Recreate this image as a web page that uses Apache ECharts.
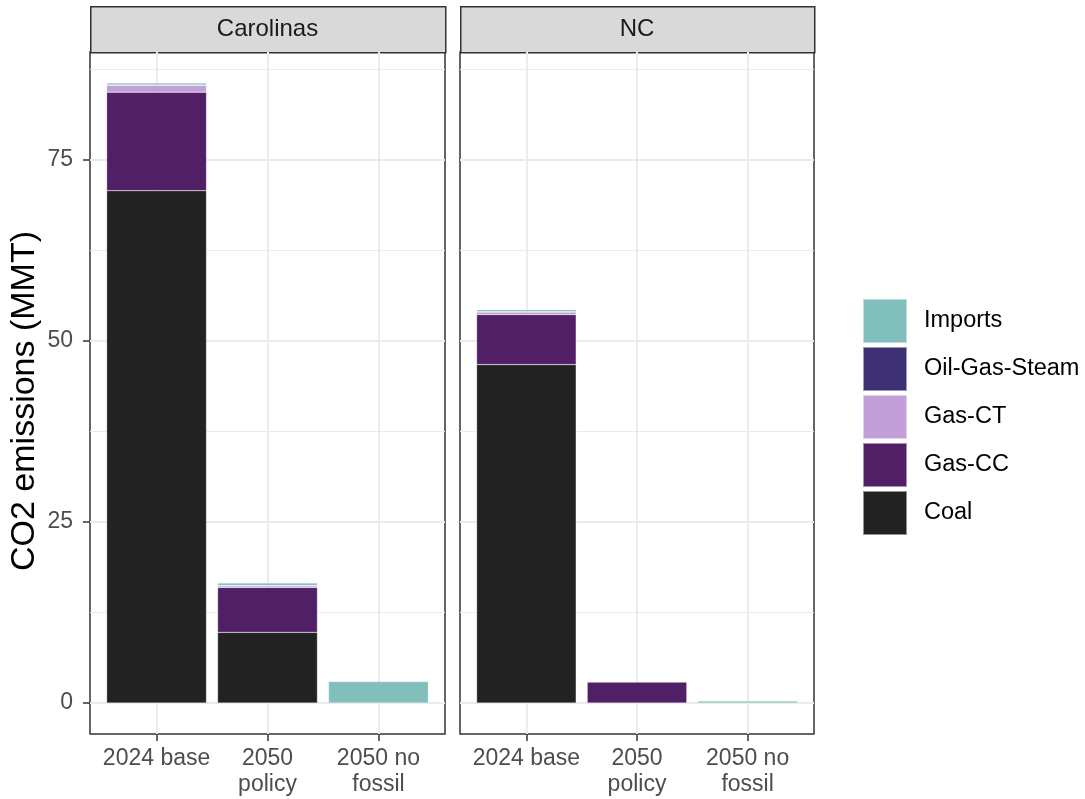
<!DOCTYPE html>
<html>
<head>
<meta charset="utf-8">
<script src="https://cdn.jsdelivr.net/npm/echarts@6/dist/echarts.min.js"></script>
<style>
  html, body { margin: 0; padding: 0; background: #fff; }
  #chart { width: 1085px; height: 799px; }
</style>
</head>
<body>
<div id="chart"></div>
<script>
// ---- data ----
const categories = ['2024 base', '2050\npolicy', '2050 no\nfossil'];
const regions = ['Carolinas', 'NC'];
const seriesNames = ['Coal', 'Gas-CC', 'Gas-CT', 'Oil-Gas-Steam', 'Imports'];
const legendOrder = ['Imports', 'Oil-Gas-Steam', 'Gas-CT', 'Gas-CC', 'Coal'];

const coalCarolinas    = [70.7, 9.75, 0];
const gasCCCarolinas   = [13.6, 6.2, 0];
const gasCTCarolinas   = [0.95, 0.23, 0];
const oilCarolinas     = [0.04, 0.02, 0];
const importsCarolinas = [0.27, 0.36, 2.95];

const coalNC    = [46.7, 0, 0];
const gasCCNC   = [6.9, 2.9, 0];
const gasCTNC   = [0.37, 0.02, 0];
const oilNC     = [0.02, 0, 0];
const importsNC = [0.28, 0, 0.27];

const yTicks = [0, 25, 50, 75];
const yMinorTicks = [12.5, 37.5, 62.5, 87.5];

// ---- styling ----
const colors = {
  'Coal': '#222222',
  'Gas-CC': '#501f66',
  'Gas-CT': '#c29fd9',
  'Oil-Gas-Steam': '#3c3073',
  'Imports': '#80bfbc'
};
const FONT = '"Liberation Sans", Arial, Helvetica, sans-serif';

const regionData = [
  { 'Coal': coalCarolinas, 'Gas-CC': gasCCCarolinas, 'Gas-CT': gasCTCarolinas, 'Oil-Gas-Steam': oilCarolinas, 'Imports': importsCarolinas },
  { 'Coal': coalNC, 'Gas-CC': gasCCNC, 'Gas-CT': gasCTNC, 'Oil-Gas-Steam': oilNC, 'Imports': importsNC }
];

// shared y range with ggplot-like 5% expansion
let dataMax = 0;
regionData.forEach(rd => {
  categories.forEach((c, i) => {
    let s = 0;
    seriesNames.forEach(n => { s += rd[n][i]; });
    dataMax = Math.max(dataMax, s);
  });
});
const expand = dataMax * 0.05;
const yMin = -expand, yMax = dataMax + expand;

const panels = [
  { left: 90, width: 355 },
  { left: 460, width: 354 }
];
const panelTop = 52, panelBottom = 734;
const xExpand = 0.6;

const grids = [], xAxes = [], yAxes = [], series = [], graphics = [];
const catIdx = categories.map((c, i) => i);
const nCat = categories.length;

panels.forEach((p, r) => {
  // outer (frame) grid: border, gridlines, ticks, labels
  const outer = grids.length;
  grids.push({
    left: p.left, top: panelTop, width: p.width, height: panelBottom - panelTop,
    show: true, borderColor: '#333333', borderWidth: 1.5, backgroundColor: '#fff',
    containLabel: false
  });
  // inner grid: category band region for bars
  const unit = p.width / ((nCat - 1) + 2 * xExpand);
  const inner = grids.length;
  grids.push({
    left: p.left + (xExpand - 0.5) * unit, top: panelTop, width: nCat * unit, height: panelBottom - panelTop,
    show: false, containLabel: false
  });

  xAxes.push({
    gridIndex: outer, type: 'value', min: -xExpand, max: nCat - 1 + xExpand, position: 'bottom',
    axisLine: { show: false, onZero: false },
    axisTick: { show: true, customValues: catIdx, length: 7, lineStyle: { color: '#333333', width: 1.5 } },
    axisLabel: {
      show: true, customValues: catIdx, margin: 12,
      formatter: v => categories[Math.round(v)],
      color: '#4d4d4d', fontSize: 23, fontFamily: FONT, lineHeight: 26
    },
    splitLine: { show: true, lineStyle: { color: '#ebebeb', width: 2 } }
  });
  const innerX = xAxes.length;
  xAxes.push({
    gridIndex: inner, type: 'category', data: categories, boundaryGap: true,
    axisLine: { show: false, onZero: false }, axisTick: { show: false }, axisLabel: { show: false }, splitLine: { show: false }
  });

  yAxes.push({
    gridIndex: outer, type: 'value', min: yMin, max: yMax, position: 'left',
    axisLine: { show: false, onZero: false },
    axisTick: { show: r === 0, customValues: yTicks, length: 7, lineStyle: { color: '#333333', width: 1.5 } },
    axisLabel: { show: r === 0, customValues: yTicks, margin: 17, color: '#4d4d4d', fontSize: 23, fontFamily: FONT },
    splitLine: { show: true, lineStyle: { color: '#ebebeb', width: 2 } }
  });
  yAxes.push({
    gridIndex: outer, type: 'value', min: yMin, max: yMax, position: 'right',
    axisLine: { show: false, onZero: false },
    axisTick: { show: false, customValues: yMinorTicks },
    axisLabel: { show: false, customValues: yMinorTicks },
    splitLine: { show: true, lineStyle: { color: '#ebebeb', width: 1 } }
  });
  const innerY = yAxes.length;
  yAxes.push({
    gridIndex: inner, type: 'value', min: yMin, max: yMax,
    axisLine: { show: false, onZero: false }, axisTick: { show: false }, axisLabel: { show: false }, splitLine: { show: false }
  });

  seriesNames.forEach(name => {
    series.push({
      type: 'bar', name: name,
      xAxisIndex: innerX, yAxisIndex: innerY,
      stack: 'stack' + r, barWidth: '90%',
      data: regionData[r][name].map(v => (v > 0 ? v : '-')),
      itemStyle: { color: colors[name], borderColor: 'rgba(255,255,255,0.5)', borderWidth: 0.5 },
      emphasis: { disabled: true }
    });
  });
  // facet strip
  graphics.push({
    type: 'rect', left: p.left, top: 6,
    shape: { width: p.width, height: panelTop - 6 },
    style: { fill: '#d9d9d9', stroke: '#333333', lineWidth: 1.5 }
  });
  graphics.push({
    type: 'text', x: p.left + p.width / 2, y: (6 + panelTop) / 2,
    style: { text: regions[r], fill: '#1a1a1a', fontSize: 24, fontFamily: FONT, align: 'center', verticalAlign: 'middle' }
  });
});

graphics.push({
  type: 'text', x: 25, y: 401, rotation: Math.PI / 2,
  style: { text: 'CO2 emissions (MMT)', fill: '#000', fontSize: 34, fontFamily: FONT, align: 'center', verticalAlign: 'middle' }
});

const chart = echarts.init(document.getElementById('chart'), null, { renderer: 'canvas' });
chart.setOption({
  animation: false,
  backgroundColor: '#ffffff',
  grid: grids,
  xAxis: xAxes,
  yAxis: yAxes,
  series: series,
  legend: {
    data: legendOrder, orient: 'vertical', left: 862, top: 298, padding: 0,
    itemWidth: 44, itemHeight: 44, itemGap: 2, icon: 'rect',
    textStyle: { color: '#000', fontSize: 23.5, fontFamily: FONT, padding: [0, 0, 0, 12] },
    selectedMode: false
  },
  graphic: graphics
});
</script>
</body>
</html>
